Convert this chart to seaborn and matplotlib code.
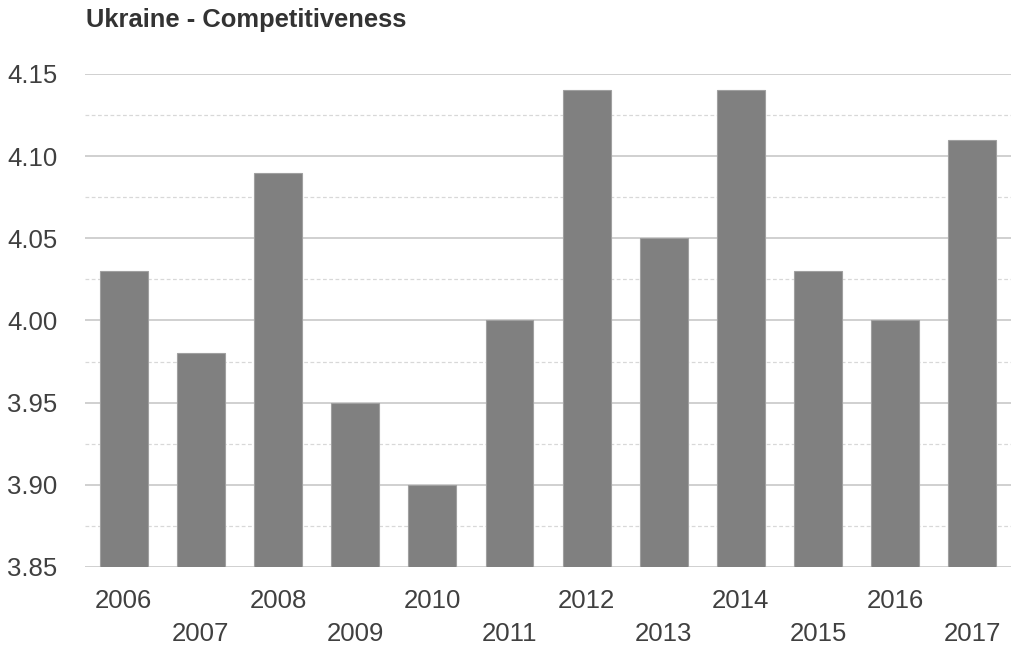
import matplotlib
matplotlib.use("Agg")
import matplotlib.pyplot as plt
import seaborn as sns
import pandas as pd
from matplotlib.ticker import MultipleLocator

years = ["2006", "2007", "2008", "2009", "2010", "2011", "2012", "2013", "2014", "2015", "2016", "2017"]
values = [4.03, 3.98, 4.09, 3.95, 3.90, 4.00, 4.14, 4.05, 4.14, 4.03, 4.00, 4.11]
yticks = [3.85, 3.90, 3.95, 4.00, 4.05, 4.10, 4.15]

sns.set_theme(style="white")
plt.rcParams['font.family'] = ['Liberation Sans', 'DejaVu Sans']

df = pd.DataFrame({"year": years, "value": values})

fig = plt.figure(figsize=(10.13, 6.46), dpi=100)
ax = fig.add_axes([0.084, 0.1223, 0.914, 0.7632])

sns.barplot(data=df, x="year", y="value", color="#808080", saturation=1,
            width=0.62, edgecolor="#a0a0a0", linewidth=0.8, ax=ax, zorder=3)

ax.set_ylim(3.85, 4.15)
ax.set_xlim(-0.5, len(years) - 0.5)
ax.set_yticks(yticks)
ax.set_yticklabels([f"{v:.2f}" for v in yticks])
ax.yaxis.set_minor_locator(MultipleLocator(0.025))
ax.grid(which="major", axis="y", color="#c8c8c8", linewidth=1.2, linestyle="-", zorder=0)
ax.grid(which="minor", axis="y", color="#d8d8d8", linewidth=0.9, linestyle=(0, (3, 2)), zorder=0)
ax.set_axisbelow(True)

labels = [y if i % 2 == 0 else "\n" + y for i, y in enumerate(years)]
ax.set_xticks(range(len(years)))
ax.set_xticklabels(labels, fontsize=18.5, color="#404040", linespacing=1.5)
ax.tick_params(axis="y", labelsize=18.5, labelcolor="#404040", length=0, pad=20)
ax.tick_params(axis="x", length=0, pad=15.5)
for lbl in ax.get_yticklabels():
    lbl.set_horizontalalignment("right")

for s in ax.spines.values():
    s.set_visible(False)

ax.set_xlabel("")
ax.set_ylabel("")

fig.text(86 / 1013, 1 - 27 / 646, "Ukraine - Competitiveness", fontsize=18.4,
         fontweight="bold", color="#333333", ha="left", va="baseline")

fig.savefig("out.png", dpi=100)
